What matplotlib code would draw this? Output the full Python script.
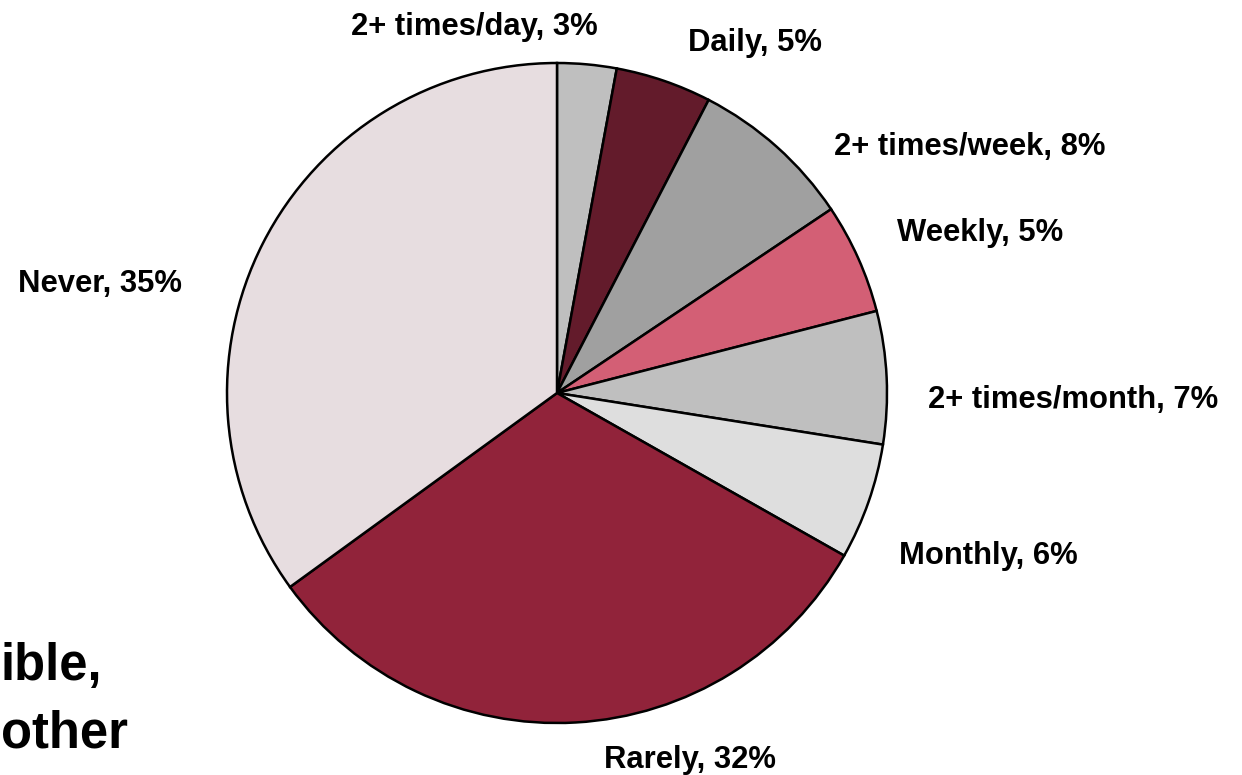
import matplotlib
matplotlib.use("Agg")
import matplotlib.pyplot as plt

plt.rcParams['font.family'] = ['Liberation Sans', 'DejaVu Sans']

categories = ["2+ times/day", "Daily", "2+ times/week", "Weekly",
              "2+ times/month", "Monthly", "Rarely", "Never"]
shares = [2.9, 4.7, 8.0, 5.4, 6.5, 5.7, 31.8, 35.0]
label_pct = [3, 5, 8, 5, 7, 6, 32, 35]
colors = ["#BFBFBF", "#631B2B", "#A0A0A0", "#D35F75",
          "#BFBFBF", "#DEDEDE", "#91233A", "#E7DDE0"]

# label positions in pixel coordinates (x, y from top)
label_pos = [(474, 27), (755, 43), (970, 147), (980, 233),
             (1073, 400), (988, 556), (690, 760), (100, 284)]

side_lines = ["ible,", "other"]
side_baselines = [680, 747]

W, H = 1242, 775
fig = plt.figure(figsize=(W / 100, H / 100), dpi=100)
ax = fig.add_axes([0, 0, 1, 1])

ax.pie(shares, colors=colors, startangle=90, counterclock=False,
       center=(557, H - 393), radius=330, normalize=True,
       wedgeprops=dict(edgecolor='black', linewidth=1.8))
ax.set_xlim(0, W)
ax.set_ylim(0, H)
ax.set_aspect('equal')
ax.axis('off')

for name, pct, (x, y) in zip(categories, label_pct, label_pos):
    ax.text(x, H - y, f"{name}, {pct}%", ha='center', va='center',
            fontsize=22.3, fontweight='bold', color='black')

for line, yb in zip(side_lines, side_baselines):
    ax.text(1, H - yb, line, ha='left', va='baseline',
            fontsize=36.5, fontweight='bold', color='black')

fig.savefig("out.png", dpi=100)
